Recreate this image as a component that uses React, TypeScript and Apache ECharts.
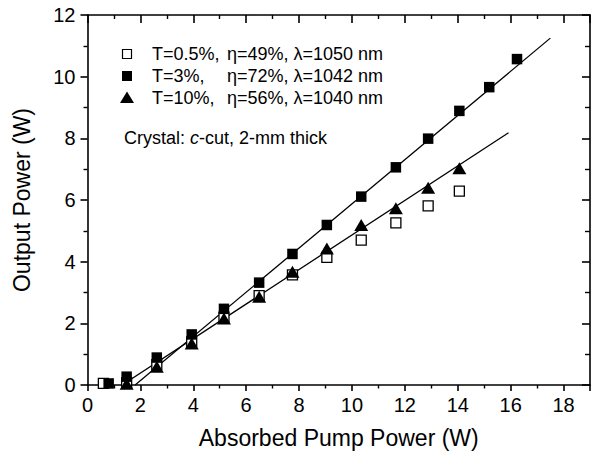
import React, { useEffect, useRef } from "react";
import * as echarts from "echarts";

const xTicks = [0, 2, 4, 6, 8, 10, 12, 14, 16, 18];
const yTicks = [0, 2, 4, 6, 8, 10, 12];

const pumpOpen = [0.6, 1.48, 2.62, 3.94, 5.16, 6.49, 7.75, 9.05, 10.35, 11.66, 12.88, 14.06];
const outOpen = [0.05, 0.08, 0.66, 1.4, 2.2, 2.9, 3.57, 4.14, 4.7, 5.26, 5.81, 6.29];

const pumpFilled = [0.8, 1.48, 2.62, 3.94, 5.16, 6.49, 7.75, 9.05, 10.35, 11.66, 12.88, 14.06, 15.19, 16.24];
const outFilled = [0.05, 0.27, 0.89, 1.64, 2.47, 3.32, 4.25, 5.19, 6.11, 7.06, 7.99, 8.89, 9.66, 10.57];

const pumpTri = [1.48, 2.62, 3.94, 5.16, 6.49, 7.75, 9.05, 10.35, 11.66, 12.88, 14.06];
const outTri = [0.04, 0.59, 1.35, 2.16, 2.86, 3.67, 4.43, 5.19, 5.73, 6.4, 7.03];

const fitFilledX = [1.8, 17.5];
const fitFilledY = [0, 11.25];
const fitTriX = [1.31, 15.92];
const fitTriY = [0, 8.18];

const legendRows = [
  { t: "T=0.5%,", rest: "\u03b7=49%, \u03bb=1050 nm", marker: "open" },
  { t: "T=3%,", rest: "\u03b7=72%, \u03bb=1042 nm", marker: "filled" },
  { t: "T=10%,", rest: "\u03b7=56%, \u03bb=1040 nm", marker: "tri" },
];

const FONT = "Arial, 'Liberation Sans', sans-serif";

const zip = (xs: number[], ys: number[]) => xs.map((x, i) => [x, ys[i]]);

export default function App() {
  const ref = useRef<HTMLDivElement>(null);
  useEffect(() => {
    if (!ref.current) return;
    const chart = echarts.init(ref.current, null, { renderer: "svg" });
    const axisLine = { show: true, onZero: false, lineStyle: { color: "#000", width: 1.6 } };
    const graphics: any[] = [];
    const rowY = [54, 76, 98];
    legendRows.forEach((r, i) => {
      const cy = rowY[i];
      if (r.marker === "open") {
        graphics.push({ type: "rect", shape: { x: 122.5, y: cy - 4.5, width: 9, height: 9 }, style: { fill: "#fff", stroke: "#000", lineWidth: 1.2 } });
      } else if (r.marker === "filled") {
        graphics.push({ type: "rect", shape: { x: 122, y: cy - 5, width: 10, height: 10 }, style: { fill: "#000" } });
      } else {
        graphics.push({ type: "polygon", shape: { points: [[127, cy - 6.5], [120, cy + 5], [134, cy + 5]] }, style: { fill: "#000" } });
      }
      graphics.push({ type: "text", x: 152, y: cy, style: { text: r.t, font: `18px ${FONT}`, fill: "#000", verticalAlign: "middle" } });
      graphics.push({ type: "text", x: 227, y: cy, style: { text: r.rest, font: `18px ${FONT}`, fill: "#000", verticalAlign: "middle" } });
    });
    graphics.push({
      type: "text", x: 124, y: 138,
      style: {
        text: "{n|Crystal: }{i|c}{n|-cut, 2-mm thick}",
        rich: { n: { font: `18px ${FONT}`, fill: "#000" }, i: { font: `italic 18px ${FONT}`, fill: "#000" } },
        verticalAlign: "middle",
      },
    });

    chart.setOption({
      animation: false,
      backgroundColor: "#fff",
      grid: { left: 87.5, right: 5, top: 15, bottom: 68, containLabel: false, outerBoundsMode: "none" },
      textStyle: { fontFamily: FONT },
      xAxis: [
        {
          type: "value", min: 0, max: 19, interval: 2, position: "bottom",
          name: "Absorbed Pump Power (W)", nameLocation: "middle", nameGap: 41,
          nameTextStyle: { fontSize: 23, color: "#000", fontFamily: FONT },
          axisLine,
          axisTick: { show: true, inside: false, length: 6, lineStyle: { color: "#000", width: 1.6 } },
          minorTick: { show: true, splitNumber: 2, length: 3.5, lineStyle: { color: "#000", width: 1.4 } },
          axisLabel: { fontSize: 20, color: "#000", margin: 10, showMaxLabel: false, fontFamily: FONT,
            formatter: (v: number) => (xTicks.includes(v) ? String(v) : "") },
          splitLine: { show: false },
        },
        {
          type: "value", min: 0, max: 19, interval: 2, position: "top",
          axisLine,
          axisTick: { show: true, inside: true, length: 8, lineStyle: { color: "#000", width: 1.6 } },
          minorTick: { show: true, splitNumber: 2, length: 4, lineStyle: { color: "#000", width: 1.4 } },
          axisLabel: { show: false },
          splitLine: { show: false },
        },
      ],
      yAxis: [
        {
          type: "value", min: 0, max: 12, interval: 2, position: "left",
          name: "Output Power (W)", nameLocation: "middle", nameGap: 54,
          nameTextStyle: { fontSize: 23, color: "#000", fontFamily: FONT },
          axisLine,
          axisTick: { show: true, inside: false, length: 7, lineStyle: { color: "#000", width: 1.6 } },
          minorTick: { show: true, splitNumber: 2, length: 4, lineStyle: { color: "#000", width: 1.4 } },
          axisLabel: { fontSize: 20, color: "#000", margin: 12, fontFamily: FONT,
            formatter: (v: number) => (yTicks.includes(v) ? String(v) : "") },
          splitLine: { show: false },
        },
        {
          type: "value", min: 0, max: 12, interval: 2, position: "right",
          axisLine,
          axisTick: { show: true, inside: true, length: 8, lineStyle: { color: "#000", width: 1.6 } },
          minorTick: { show: true, splitNumber: 2, length: 5, lineStyle: { color: "#000", width: 1.4 } },
          axisLabel: { show: false },
          splitLine: { show: false },
        },
      ],
      series: [
        {
          type: "line", data: zip(fitFilledX, fitFilledY), symbol: "none", z: 2,
          lineStyle: { color: "#000", width: 1.3 },
        },
        {
          type: "line", data: zip(fitTriX, fitTriY), symbol: "none", z: 2,
          lineStyle: { color: "#000", width: 1.3 },
        },
        {
          type: "scatter", data: zip(pumpOpen, outOpen), symbol: "rect", symbolSize: 10, z: 3,
          itemStyle: { color: "#fff", borderColor: "#000", borderWidth: 1.3, opacity: 1 },
        },
        {
          type: "scatter", data: zip(pumpTri, outTri), symbol: "triangle", symbolSize: [14, 12], z: 4,
          itemStyle: { color: "#000", opacity: 1 },
        },
        {
          type: "scatter", data: zip(pumpFilled, outFilled), symbol: "rect", symbolSize: 10.5, z: 5,
          itemStyle: { color: "#000", opacity: 1 },
        },
      ],
      graphic: graphics,
    });
    return () => chart.dispose();
  }, []);
  return <div ref={ref} style={{ width: 595, height: 453, position: "absolute", left: 0, top: 0 }} />;
}
